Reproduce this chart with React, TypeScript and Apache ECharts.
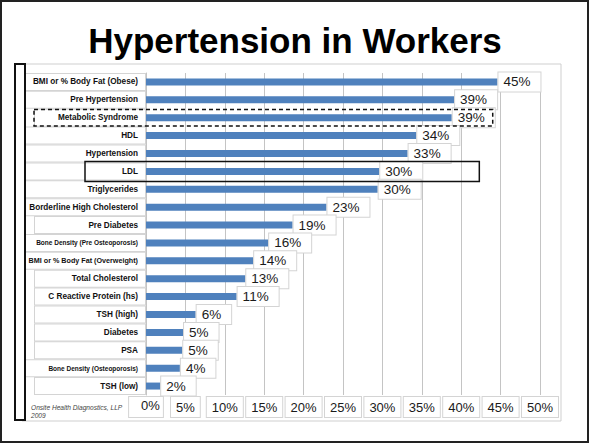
import React, { useEffect, useRef } from "react";
import * as echarts from "echarts";

const title = "Hypertension in Workers";
const footnote = ["Onsite Health Diagnostics, LLP", "2009"];

const categories = [
  "BMI or % Body Fat (Obese)",
  "Pre Hypertension",
  "Metabolic Syndrome",
  "HDL",
  "Hypertension",
  "LDL",
  "Triglycerides",
  "Borderline High Cholesterol",
  "Pre Diabetes",
  "Bone Density (Pre Osteoporosis)",
  "BMI or % Body Fat (Overweight)",
  "Total Cholesterol",
  "C Reactive Protein (hs)",
  "TSH (high)",
  "Diabetes",
  "PSA",
  "Bone Density (Osteoporosis)",
  "TSH (low)",
];

const values = [44.6, 39.1, 38.8, 34.3, 33.2, 29.6, 29.4, 22.9, 18.6, 15.5, 13.6, 12.6, 11.5, 6.3, 4.7, 4.6, 4.3, 1.8];

const valueLabels = ["45%", "39%", "39%", "34%", "33%", "30%", "30%", "23%", "19%", "16%", "14%", "13%", "11%", "6%", "5%", "5%", "4%", "2%"];

const xMin = 0;
const xMax = 50;
const xStep = 5;

// annotation highlights
const dashedRow = "Metabolic Syndrome";
const dashedEnd = 44;
const solidRow = "LDL";
const solidEnd = 42.3;

// label styling groups (style only)
const narrowBoxes = new Set(["Metabolic Syndrome", "Pre Diabetes", "Total Cholesterol", "C Reactive Protein (hs)", "TSH (high)", "Diabetes", "PSA", "TSH (low)"]);
const tinyFont = new Set(["Bone Density (Pre Osteoporosis)", "Bone Density (Osteoporosis)"]);
const smallFont = new Set(["BMI or % Body Fat (Overweight)"]);

const FONT = "'Liberation Sans', Arial, Helvetica, sans-serif";

export default function App() {
  const ref = useRef<HTMLDivElement>(null);

  useEffect(() => {
    if (!ref.current) return;
    const chart = echarts.init(ref.current, undefined, { renderer: "svg" });

    const boxBase = {
      align: "right" as const,
      backgroundColor: "#ffffff",
      borderColor: "#d4d4d4",
      borderWidth: 1,
      height: 16,
      lineHeight: 16,
      color: "#111",
      fontWeight: "bold" as const,
      fontFamily: FONT,
    };
    const rich: any = {};
    for (const w of ["W", "N"]) {
      for (const f of ["b", "m", "s"]) {
        rich[w + f] = {
          ...boxBase,
          width: w === "W" ? 110 : 101,
          padding: [0, 7, 0, 2],
          fontSize: f === "b" ? 8.2 : f === "m" ? 7.2 : 6.5,
        };
      }
    }

    const xBox = {
      fontFamily: FONT,
      fontSize: 13,
      color: "#1a1a1a",
      backgroundColor: "#ffffff",
      borderColor: "#d4d4d4",
      borderWidth: 1,
    };

    chart.setOption({
      animation: false,
      backgroundColor: "#ffffff",
      grid: { left: 146, right: 50, top: 73, bottom: 49, containLabel: false },
      xAxis: {
        type: "value",
        min: xMin,
        max: xMax,
        interval: xStep,
        axisLine: { show: false },
        axisTick: { show: false },
        splitLine: {
          show: true,
          showMinLine: true,
          showMaxLine: true,
          lineStyle: { color: "#c4c4c4", width: 1 },
        },
        axisLabel: {
          showMinLabel: true,
          showMaxLabel: true,
          hideOverlap: false,
          margin: 2,
          formatter: (v: number) => (v === xMin ? `{z|${v}%}` : `{t|${v}%}`),
          rich: {
            t: { ...xBox, padding: [4, 5, 3, 5] },
            z: { ...xBox, padding: [2, 3, 5, 12] },
          },
        },
      },
      yAxis: {
        type: "category",
        inverse: true,
        data: categories,
        axisLine: { show: true, lineStyle: { color: "#c4c4c4", width: 1 } },
        axisTick: { show: false },
        axisLabel: {
          margin: 1,
          showMinLabel: true,
          showMaxLabel: true,
          interval: 0,
          hideOverlap: false,
          formatter: (v: string) => {
            const w = narrowBoxes.has(v) ? "N" : "W";
            const f = tinyFont.has(v) ? "s" : smallFont.has(v) ? "m" : "b";
            return `{${w}${f}|${v}}`;
          },
          rich,
        },
      },
      series: [
        {
          type: "bar",
          data: values,
          barWidth: 7,
          itemStyle: { color: "#4f81bd" },
          label: {
            show: true,
            position: "right",
            distance: 1,
            formatter: (p: any) => valueLabels[p.dataIndex],
            fontFamily: FONT,
            fontSize: 13.5,
            color: "#1a1a1a",
            backgroundColor: "#ffffff",
            borderColor: "#d4d4d4",
            borderWidth: 1,
            padding: [3, 10, 2, 5],
          },
          z: 3,
        },
      ],
    });

    const yD = chart.convertToPixel({ yAxisIndex: 0 }, dashedRow) as number;
    const xD = chart.convertToPixel({ xAxisIndex: 0 }, dashedEnd) as number;
    const yS = chart.convertToPixel({ yAxisIndex: 0 }, solidRow) as number;
    const xS = chart.convertToPixel({ xAxisIndex: 0 }, solidEnd) as number;

    chart.setOption({
      graphic: [
        {
          type: "rect",
          z: -10,
          silent: true,
          shape: { x: 22, y: 64, width: 539, height: 357 },
          style: { fill: "none", stroke: "#cfcfcf", lineWidth: 1 },
        },
        {
          type: "rect",
          z: 100,
          silent: true,
          shape: { x: 1, y: 1, width: 587, height: 441 },
          style: { fill: "none", stroke: "#222", lineWidth: 2 },
        },
        {
          type: "rect",
          z: 50,
          silent: true,
          shape: { x: 15, y: 64, width: 10, height: 356 },
          style: { fill: "#fff", stroke: "#111", lineWidth: 2 },
        },
        {
          type: "text",
          z: 50,
          x: 295,
          y: 40,
          style: {
            text: title,
            fontFamily: FONT,
            fontWeight: "bold",
            fontSize: 35,
            fill: "#000",
            textAlign: "center",
            textVerticalAlign: "middle",
          },
        },
        {
          type: "text",
          z: 50,
          x: 31,
          y: 407,
          style: {
            text: footnote[0],
            fontFamily: FONT,
            fontStyle: "italic",
            fontSize: 6.6,
            fill: "#444",
            textAlign: "left",
            textVerticalAlign: "middle",
          },
        },
        {
          type: "text",
          z: 50,
          x: 31,
          y: 415,
          style: {
            text: footnote[1],
            fontFamily: FONT,
            fontStyle: "italic",
            fontSize: 6.6,
            fill: "#444",
            textAlign: "left",
            textVerticalAlign: "middle",
          },
        },
        {
          type: "rect",
          z: 60,
          silent: true,
          shape: { x: 34, y: yD - 8.2, width: xD - 34, height: 16.4 },
          style: { fill: "none", stroke: "#111", lineWidth: 1.5, lineDash: [4, 3] },
        },
        {
          type: "rect",
          z: 60,
          silent: true,
          shape: { x: 85, y: yS - 10, width: xS - 85, height: 20 },
          style: { fill: "none", stroke: "#111", lineWidth: 1.5 },
        },
      ],
    });

    return () => chart.dispose();
  }, []);

  return (
    <div
      ref={ref}
      style={{ position: "fixed", left: 0, top: 0, width: 590, height: 444 }}
    />
  );
}
